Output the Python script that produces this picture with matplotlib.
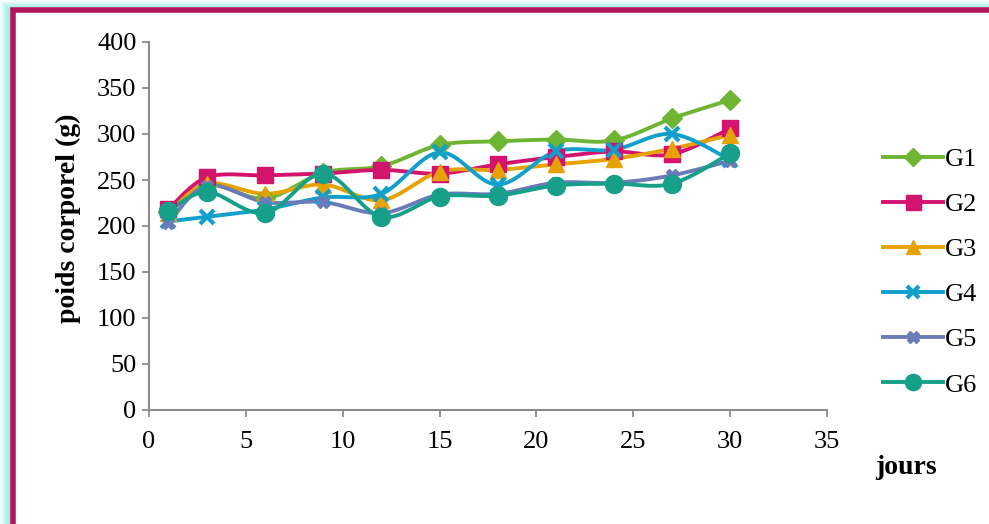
import numpy as np
import matplotlib.pyplot as plt
from matplotlib.patches import Rectangle
from matplotlib.lines import Line2D

plt.rcParams['font.family'] = ['Liberation Serif', 'DejaVu Serif']

jours = [1, 3, 6, 9, 12, 15, 18, 21, 24, 27, 30]
groupes = ['G1', 'G2', 'G3', 'G4', 'G5', 'G6']

g1 = [215, 245, 230, 258, 265, 288, 292, 294, 293, 317, 337]
g2 = [218, 253, 255, 257, 261, 257, 267, 275, 281, 278, 306]
g3 = [214, 246, 235, 245, 228, 259, 261, 267, 273, 284, 299]
g4 = [205, 210, 218, 231, 235, 280, 245, 281, 283, 300, 272]
g5 = [203, 244, 226, 226, 214, 234, 235, 247, 247, 255, 271]
g6 = [216, 237, 214, 257, 210, 232, 233, 244, 246, 246, 279]

couleurs = ['#6db533', '#d4136f', '#e6a200', '#119fcc', '#6b7bb8', '#16a08a']
marqueurs = ['D', 's', '^', 'x', 'X', 'o']
tailles = [10, 12, 11, 10, 9, 13]


def lisser(x, y, n=20):
    # courbe lissée type Catmull-Rom passant par chaque point
    x = np.asarray(x, float)
    y = np.asarray(y, float)
    px = np.concatenate([[x[0]], x, [x[-1]]])
    py = np.concatenate([[y[0]], y, [y[-1]]])
    xs, ys = [], []
    for i in range(1, len(px) - 2):
        p0, p1, p2, p3 = (np.array([px[j], py[j]]) for j in range(i - 1, i + 3))
        c1 = p1 + (p2 - p0) / 6
        c2 = p2 - (p3 - p1) / 6
        t = np.linspace(0, 1, n)[:, None]
        b = ((1 - t) ** 3) * p1 + 3 * ((1 - t) ** 2) * t * c1 + 3 * (1 - t) * t ** 2 * c2 + t ** 3 * p2
        xs.extend(b[:, 0])
        ys.extend(b[:, 1])
    return np.array(xs), np.array(ys)


fig = plt.figure(figsize=(9.89, 5.24), dpi=100)

# cadre : halo cyan puis bordure magenta
W, H = 989, 524
for k, a in enumerate([0.12, 0.25, 0.4, 0.55, 0.7]):
    off = 2 * k
    fig.patches.append(Rectangle((off / W, -0.2), 1.5, (H - off) / H + 0.2,
                                 transform=fig.transFigure, facecolor='#9beee2',
                                 alpha=a, edgecolor='none', zorder=0))
fig.patches.append(Rectangle((13 / W, -0.2), 1.5, (H - 10) / H + 0.2,
                             transform=fig.transFigure, facecolor='white',
                             edgecolor='#b3165d', linewidth=4, zorder=1))

ax = fig.add_axes([149 / W, 1 - 410 / H, (827 - 149) / W, (410 - 42) / H])
ax.set_zorder(2)
ax.patch.set_visible(False)

series = [g1, g2, g3, g4, g5, g6]
handles = []
for nom, y, c, m, s in zip(groupes, series, couleurs, marqueurs, tailles):
    xs, ys = lisser(jours, y)
    ax.plot(xs, ys, color=c, linewidth=2.8, solid_capstyle='round', zorder=3)
    mew = 3 if m == 'x' else 1
    ax.plot(jours, y, linestyle='none', marker=m, markersize=s, color=c,
            markeredgecolor=c, markeredgewidth=mew, zorder=4)
    handles.append(Line2D([], [], color=c, linewidth=2.8, marker=m,
                          markersize=s * 0.9, markeredgecolor=c,
                          markeredgewidth=mew, label=nom))

ax.set_xlim(0, 35)
ax.set_ylim(0, 400)
ax.set_xticks(range(0, 36, 5))
ax.set_yticks(range(0, 401, 50))
for side in ['top', 'right']:
    ax.spines[side].set_visible(False)
for side in ['left', 'bottom']:
    ax.spines[side].set_color('#8c8c8c')
    ax.spines[side].set_linewidth(1.5)
ax.tick_params(axis='both', direction='out', length=5, width=1.3,
               color='#8c8c8c', labelsize=19, labelcolor='black')
ax.tick_params(axis='x', pad=10)
ax.tick_params(axis='y', pad=4)

fig.text(68 / W, 1 - 218 / H, 'poids corporel (g)', rotation=90,
         fontsize=20, fontweight='bold', ha='center', va='center')
fig.text(906 / W, 1 - 467 / H, 'jours', fontsize=20, fontweight='bold',
         ha='center', va='center')

fig.legend(handles=handles, loc='upper left', bbox_to_anchor=(872 / W, 1 - 137 / H),
           frameon=False, fontsize=19, handlelength=2.3, handletextpad=0.05,
           labelspacing=0.82, borderaxespad=0)

fig.savefig('out.png', dpi=100)
